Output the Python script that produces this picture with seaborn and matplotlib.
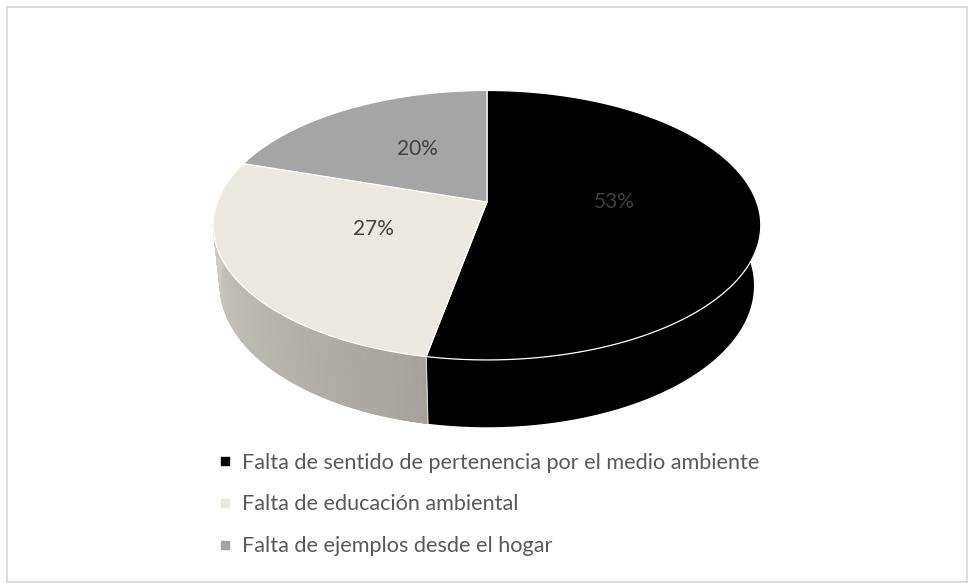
import numpy as np
import matplotlib
matplotlib.use("Agg")
import matplotlib.pyplot as plt
from matplotlib.lines import Line2D
from matplotlib.patches import Rectangle
import seaborn as sns

# data
labels = ["Falta de sentido de pertenencia por el medio ambiente",
          "Falta de educación ambiental",
          "Falta de ejemplos desde el hogar"]
values = [53, 27, 20]
top_colors = ["#000000", "#EAE8DF", "#A5A5A5"]
side_light = ["#000000", "#D0CEC6", "#8A8A8A"]
side_dark = ["#000000", "#9E9C94", "#6E6E6E"]

sns.set_theme(style="white")
plt.rcParams["font.family"] = ["Lato", "DejaVu Sans"]

W, H = 969, 583
fig = plt.figure(figsize=(W / 100, H / 100), dpi=100)
ax = fig.add_axes([0, 0, 1, 1])
ax.set_xlim(0, W)
ax.set_ylim(H, 0)
ax.axis("off")

# perspective setup for the 3d pie
cx, cy = 487, 202
elev = np.radians(29)
D, f = 5.08, 1370
depth = 0.26


def proj(theta, r=1.0, z=0.0):
    X = r * np.sin(theta)
    Y = r * np.cos(theta)
    v = Y * np.sin(elev) + z * np.cos(elev)
    w = Y * np.cos(elev) - z * np.sin(elev)
    s = f / (D + w)
    return cx + X * s, cy - v * s


fracs = np.array(values) / np.sum(values)
edges = np.concatenate([[0], np.cumsum(fracs)]) * 2 * np.pi

# side walls (front half only)
for i in range(len(values)):
    a0 = max(edges[i], np.pi / 2)
    a1 = min(edges[i + 1], 3 * np.pi / 2)
    if a1 <= a0:
        continue
    th = np.linspace(a0, a1, 200)
    xt, yt = proj(th)
    xb, yb = proj(th[::-1], z=-depth)
    # base polygon, also the only one for flat colours
    ax.fill(np.r_[xt, xb], np.r_[yt, yb], color=side_dark[i], lw=0, zorder=2)
    if side_light[i] == side_dark[i]:
        continue
    n = 90
    th = np.linspace(a0, a1, n + 1)
    c_light = np.array(matplotlib.colors.to_rgb(side_light[i]))
    c_dark = np.array(matplotlib.colors.to_rgb(side_dark[i]))
    for k in range(n):
        t0, t1 = th[k], th[k + 1]
        xt, yt = proj(np.array([t0, t1]))
        xb, yb = proj(np.array([t1, t0]), z=-depth)
        tm = 0.5 * (t0 + t1)
        # lighter toward the left side, darker toward the front
        lam = np.clip((tm - np.pi) / (np.pi / 2), 0, 1)
        col = c_dark + (c_light - c_dark) * lam
        ax.fill(np.r_[xt, xb], np.r_[yt, yb], color=col, lw=0.5, ec=col, zorder=2)

# seam lines between walls
for i in range(1, len(values)):
    if np.pi / 2 < edges[i] < 3 * np.pi / 2:
        xs, ys = proj(np.array([edges[i], edges[i]]), z=np.array([0, -depth]))
        ax.plot(xs, ys, color="#D9D9D9", lw=0.8, zorder=3)

# top faces
for i in range(len(values)):
    th = np.linspace(edges[i], edges[i + 1], 200)
    xa, ya = proj(th)
    x0, y0 = proj(0.0, r=0.0)
    ax.fill(np.r_[x0, xa], np.r_[y0, ya], color=top_colors[i], ec="white",
            lw=0.9, zorder=4)

# percentage labels
for i, v in enumerate(values):
    mid = 0.5 * (edges[i] + edges[i + 1])
    lx, ly = proj(mid, r=0.47)
    ax.text(lx, ly - 6, f"{v}%", ha="center", va="center", fontsize=15,
            color="#404040", zorder=5)

# legend
handles = [Line2D([], [], marker="s", ls="", markersize=5.5, color=c,
                  markeredgecolor=c) for c in top_colors]
ax.legend(handles, labels, loc="upper left", bbox_to_anchor=(208 / W, 1 - 442 / H),
          frameon=False, fontsize=15.6, labelcolor="#595959", handlelength=0.6,
          handletextpad=0.45, labelspacing=1.0, borderpad=0)

# outer frame
ax.add_patch(Rectangle((7, 7), 960, 575, fill=False, ec="#D9D9D9", lw=1.3, zorder=1))

fig.savefig("out.png", dpi=100)
